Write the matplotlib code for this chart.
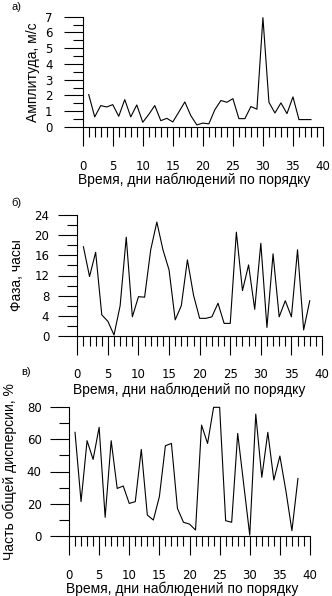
import matplotlib
matplotlib.use("Agg")
import matplotlib.pyplot as plt
from matplotlib.ticker import MultipleLocator

days = list(range(1, 39))

amplitude = [2.06, 0.64, 1.36, 1.27, 1.42, 0.68, 1.74, 0.64, 1.40, 0.30,
             0.80, 1.36, 0.40, 0.55, 0.32, 0.95, 1.59, 0.72, 0.13, 0.25,
             0.20, 1.10, 1.68, 1.57, 1.80, 0.53, 0.53, 1.30, 1.13, 6.94,
             1.57, 0.89, 1.53, 0.85, 1.91, 0.47, 0.47, 0.47]

phase = [17.7, 11.8, 16.6, 4.2, 2.9, 0.2, 6.0, 19.6, 3.8, 7.8,
         7.7, 17.1, 22.6, 17.1, 13.1, 3.2, 6.0, 15.1, 8.1, 3.5,
         3.5, 3.8, 6.5, 2.5, 2.5, 20.6, 9.0, 14.1, 5.3, 18.4,
         1.7, 16.3, 3.8, 7.0, 3.8, 17.1, 1.2, 7.0]

variance = [64.3, 21.3, 59.1, 47.5, 67.4, 11.6, 59.1, 29.5, 31.0, 20.2,
            21.3, 53.7, 13.0, 9.9, 24.4, 56.0, 57.4, 17.1, 8.5, 7.4,
            3.7, 68.8, 57.4, 79.8, 79.8, 9.5, 8.5, 63.6, 32.0, 0.5,
            75.6, 36.4, 64.3, 34.7, 49.6, 28.0, 3.3, 35.7]

xlabel = "Время, дни наблюдений по порядку"

W, H = 332, 596
fig = plt.figure(figsize=(W / 100, H / 100), dpi=100)


def px(x0, x1, y0, y1):
    # axes rectangle from pixel edges (left, right, y of zero, y of top)
    return [x0 / W, 1 - y0 / H, (x1 - x0) / W, (y0 - y1) / H]


panels = [
    # values, rect, ymax, major, minor, ylabel, ylabel x, ytick pad, xtick pad,
    # letter, letter xy, xlabel xy
    (amplitude, px(82.7, 323, 127, 16.7), 7, 1, 0.5, "Амплитуда, м/с", 33, 8, 10,
     "а)", (16, 7), (194, 180)),
    (phase, px(77.3, 322, 336, 215), 24, 4, 2, "Фаза, часы", 17, 6.5, 9,
     "б)", (16, 203), (189, 390)),
    (variance, px(69, 310, 536, 407), 80, 20, 10, "Часть общей дисперсии, %", 10, 6, 10,
     "в)", (26, 372), (182, 589)),
]

for vals, rect, ymax, major, minor, ylab, ylx, ypad, xpad, letter, lxy, xlxy in panels:
    ax = fig.add_axes(rect)
    ax.plot(days, vals, color="black", lw=0.8, clip_on=False)
    ax.set_xlim(0, 40)
    ax.set_ylim(0, ymax)
    for s in ("top", "right"):
        ax.spines[s].set_visible(False)
    for s in ("left", "bottom"):
        ax.spines[s].set_linewidth(0.8)
    ax.xaxis.set_major_locator(MultipleLocator(5))
    ax.xaxis.set_minor_locator(MultipleLocator(1))
    ax.yaxis.set_major_locator(MultipleLocator(major))
    ax.yaxis.set_minor_locator(MultipleLocator(minor))
    ax.tick_params(axis="x", which="major", direction="out", length=13.7, width=0.8, pad=xpad)
    ax.tick_params(axis="x", which="minor", direction="out", length=7.2, width=0.8)
    ax.tick_params(axis="y", which="major", direction="out", length=13.7, width=0.8, pad=ypad)
    ax.tick_params(axis="y", which="minor", direction="out", length=7.2, width=0.8)
    for t in ax.get_xticklabels() + ax.get_yticklabels():
        t.set_fontfamily("DejaVu Sans")
        t.set_fontsize(8.5)
    # y label, centred on the axes height
    fig.text(ylx / W, rect[1] + rect[3] / 2, ylab, rotation=90,
             ha="center", va="center", family="Liberation Sans", fontsize=10)
    fig.text(xlxy[0] / W, 1 - xlxy[1] / H, xlabel, ha="center", va="center",
             family="Liberation Sans", fontsize=10)
    fig.text(lxy[0] / W, 1 - lxy[1] / H, letter, ha="center", va="center",
             family="Liberation Sans", fontsize=8)

fig.savefig("out.png", dpi=100)
